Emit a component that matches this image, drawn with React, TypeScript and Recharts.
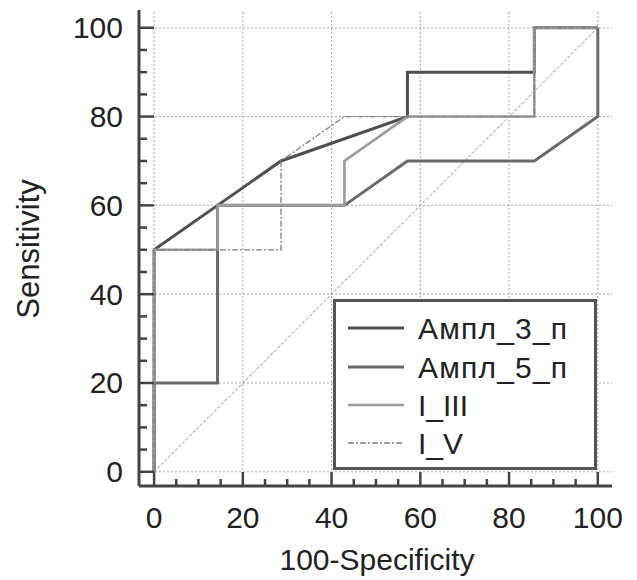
import React from 'react';
import { LineChart, Line, XAxis, YAxis, ReferenceLine, Legend } from 'recharts';

// ---- data ----
const seriesNames = ['Ампл_3_п', 'Ампл_5_п', 'I_III', 'I_V'];

const ampl3X = [0, 0, 14.3, 28.6, 57.1, 57.1, 85.7, 85.7, 100];
const ampl3Y = [0, 50, 60, 70, 80, 90, 90, 100, 100];

const ampl5X = [0, 0, 14.3, 14.3, 42.9, 57.1, 85.7, 100, 100];
const ampl5Y = [0, 20, 20, 60, 60, 70, 70, 80, 100];

const i3X = [0, 0, 14.3, 14.3, 42.9, 42.9, 57.1, 85.7, 85.7, 100];
const i3Y = [0, 50, 50, 60, 60, 70, 80, 80, 100, 100];

const i5X = [0, 0, 28.6, 28.6, 42.9, 85.7, 85.7, 100];
const i5Y = [0, 50, 50, 70, 80, 80, 100, 100];

const diagX = [0, 100];
const diagY = [0, 100];

const axisTicks = [0, 5, 10, 15, 20, 25, 30, 35, 40, 45, 50, 55, 60, 65, 70, 75, 80, 85, 90, 95, 100];
const majorTicks = [0, 20, 40, 60, 80, 100];

// ---- styles ----
const FONT = '"Liberation Sans", Arial, Helvetica, sans-serif';
const AXIS_COLOR = '#444';
const TEXT_COLOR = '#222';

const seriesStyles = [
  { stroke: '#4f4f4f', strokeWidth: 3, dash: undefined as string | undefined, spacing: 1.2 },
  { stroke: '#6a6a6a', strokeWidth: 3, dash: undefined as string | undefined, spacing: 1.2 },
  { stroke: '#9c9c9c', strokeWidth: 2.6, dash: undefined as string | undefined, spacing: 0 },
  { stroke: '#808080', strokeWidth: 1.3, dash: '6 2 2 2', spacing: 0 },
];

const toPoints = (xs: number[], ys: number[]) => xs.map((x, i) => ({ x, y: ys[i] }));

const seriesData = [
  toPoints(ampl3X, ampl3Y),
  toPoints(ampl5X, ampl5Y),
  toPoints(i3X, i3Y),
  toPoints(i5X, i5Y),
];
const diagData = toPoints(diagX, diagY);

const isMajor = (v: number) => majorTicks.indexOf(v) >= 0;

const YTick = (props: any) => {
  const { x, y, payload } = props;
  const v = payload.value as number;
  const major = isMajor(v);
  return (
    <g>
      <line x1={x} y1={y} x2={x + (major ? 15 : 8)} y2={y} stroke={AXIS_COLOR} strokeWidth={2.5} />
      {major && (
        <text x={x - 16} y={y + 10.5} textAnchor="end" fontSize={30} fontFamily={FONT} fill={TEXT_COLOR}>
          {v}
        </text>
      )}
    </g>
  );
};

const XTick = (props: any) => {
  const { x, y, payload } = props;
  const v = payload.value as number;
  const major = isMajor(v);
  return (
    <g>
      <line x1={x} y1={y} x2={x} y2={y - (major ? 14 : 7)} stroke={AXIS_COLOR} strokeWidth={2.5} />
      {major && (
        <text x={x} y={y + 42} textAnchor="middle" fontSize={30} fontFamily={FONT} fill={TEXT_COLOR}>
          {v}
        </text>
      )}
    </g>
  );
};

const XTitle = () => (
  <text x={377} y={570} textAnchor="middle" fontSize={30} fontFamily={FONT} fill={TEXT_COLOR}>
    100-Specificity
  </text>
);

const YTitle = () => (
  <text transform="translate(39,249) rotate(-90)" textAnchor="middle" fontSize={31} fontFamily={FONT} fill={TEXT_COLOR}>
    Sensitivity
  </text>
);

const rowY = [26, 65, 103, 141];

const LegendBox = () => (
  <div
    style={{
      width: 264,
      height: 171,
      border: '3px solid #555',
      background: '#fff',
      boxSizing: 'border-box',
    }}
  >
    <svg width={258} height={165} style={{ display: 'block' }}>
      {seriesNames.map((name, i) => (
        <g key={name}>
          <line
            x1={12}
            x2={68}
            y1={rowY[i]}
            y2={rowY[i]}
            stroke={seriesStyles[i].stroke}
            strokeWidth={seriesStyles[i].strokeWidth}
            strokeDasharray={seriesStyles[i].dash}
          />
          <text
            x={82}
            y={rowY[i] + 10.5}
            fontSize={30}
            fontFamily={FONT}
            fill={TEXT_COLOR}
            letterSpacing={seriesStyles[i].spacing}
          >
            {name}
          </text>
        </g>
      ))}
    </svg>
  </div>
);

export default function App() {
  return (
    <div style={{ position: 'absolute', left: 0, top: 0, background: '#fff' }}>
      <LineChart width={637} height={580} margin={{ top: 10, right: 25, bottom: 34, left: 79 }}>
        {majorTicks.map((v) => (
          <ReferenceLine key={'gx' + v} x={v} stroke="#aaa" strokeWidth={1} strokeDasharray="2 2" />
        ))}
        {majorTicks.map((v) => (
          <ReferenceLine key={'gy' + v} y={v} stroke="#aaa" strokeWidth={1} strokeDasharray="2 2" />
        ))}
        <XAxis
          type="number"
          dataKey="x"
          domain={[-3.4, 103.2]}
          allowDataOverflow
          ticks={axisTicks}
          interval={0}
          tickSize={0}
          tickMargin={0}
          tickLine={false}
          tick={<XTick />}
          axisLine={{ stroke: AXIS_COLOR, strokeWidth: 3 }}
          height={60}
          label={<XTitle />}
        />
        <YAxis
          type="number"
          dataKey="y"
          domain={[-3.2, 104]}
          allowDataOverflow
          ticks={axisTicks}
          interval={0}
          tickSize={0}
          tickMargin={0}
          tickLine={false}
          tick={<YTick />}
          axisLine={{ stroke: AXIS_COLOR, strokeWidth: 3 }}
          width={60}
          label={<YTitle />}
        />
        <Line
          data={diagData}
          dataKey="y"
          type="linear"
          stroke="#8a8a8a"
          strokeWidth={1}
          strokeDasharray="3 2"
          dot={false}
          activeDot={false}
          legendType="none"
          isAnimationActive={false}
        />
        {seriesNames.map((name, i) => (
          <Line
            key={name}
            name={name}
            data={seriesData[i]}
            dataKey="y"
            type="linear"
            stroke={seriesStyles[i].stroke}
            strokeWidth={seriesStyles[i].strokeWidth}
            strokeDasharray={seriesStyles[i].dash}
            strokeLinejoin="miter"
            dot={false}
            activeDot={false}
            isAnimationActive={false}
          />
        ))}
        <Legend
          layout="vertical"
          align="center"
          verticalAlign="middle"
          content={<LegendBox />}
          wrapperStyle={{ position: 'absolute', left: 333, top: 299, width: 264, height: 171, margin: 0, padding: 0 }}
        />
      </LineChart>
    </div>
  );
}
